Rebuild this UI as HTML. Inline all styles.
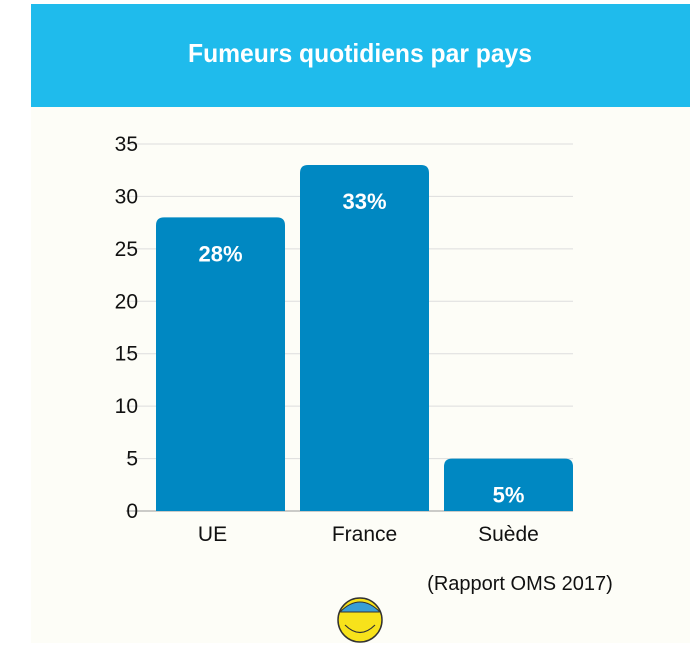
<!DOCTYPE html>
<html><head><meta charset="utf-8"><style>
body{margin:0;width:696px;height:643px;background:#fff;overflow:hidden;font-family:"Liberation Sans",sans-serif}
</style></head><body>
<svg width="696" height="643">
<rect x="31" y="4" width="659" height="103" fill="#1FBBEC"/>
<text x="188" y="62" textLength="344" lengthAdjust="spacingAndGlyphs" fill="#fff" font-size="26" font-weight="bold">Fumeurs quotidiens par pays</text>
<rect x="31" y="107" width="659" height="536" fill="#FDFDF7"/>
<g id="grid"></g><g id="bars"></g>
<text x="520" y="590" text-anchor="middle" font-size="20" fill="#111">(Rapport OMS 2017)</text>
<g>
<circle cx="360" cy="620" r="22" fill="#F7E21B" stroke="#333" stroke-width="1.5"/>
<path d="M340 612 Q360 592 380 612 Z" fill="#3A9ED6" stroke="#333" stroke-width="1"/>
<path d="M345 625 Q360 640 375 625" fill="none" stroke="#333" stroke-width="1.2"/>
</g>
</svg>
<script>
const categories=["UE","France","Suède"];
const values=[28,33,5];
const labels=["28%","33%","5%"];
const ticks=[0,5,10,15,20,25,30,35];
const NS="http://www.w3.org/2000/svg";
const y0=511,yTop=144,maxV=35;
const y=v=>y0-(y0-yTop)*v/maxV;
const bx=i=>156+i*144,bw=129;
const grid=document.getElementById('grid'),bars=document.getElementById('bars');
function el(t,a,p){const e=document.createElementNS(NS,t);for(const k in a)e.setAttribute(k,a[k]);p.appendChild(e);return e;}
ticks.forEach(t=>{
 const l=el('line',{x1:126,x2:573,y1:y(t),y2:y(t),stroke:t===0?'#999':'#ddd','stroke-width':1},grid);
 
 
 const tx=el('text',{x:138,y:y(t)+7,'text-anchor':'end','font-size':21,fill:'#111'},grid);
 tx.textContent=t;
 
 
});
values.forEach((v,i)=>{
 const x=bx(i),top=y(v),r=8;
 const p=el('path',{d:`M${x} ${y0} V${top+r} Q${x} ${top} ${x+r} ${top} H${x+bw-r} Q${x+bw} ${top} ${x+bw} ${top+r} V${y0} Z`,fill:'#0088C2'},bars);
 
 
 const t=el('text',{x:x+bw/2,y:top+44,'text-anchor':'middle','font-size':22,'font-weight':'bold',fill:'#fff'},bars);
 t.textContent=labels[i];
 
 
 const c=el('text',{x:x+bw/2+(i===0?-8:0),y:541,'text-anchor':'middle','font-size':21,fill:'#111'},bars);
 c.textContent=categories[i];
 
 
});
</script>
</body></html>
